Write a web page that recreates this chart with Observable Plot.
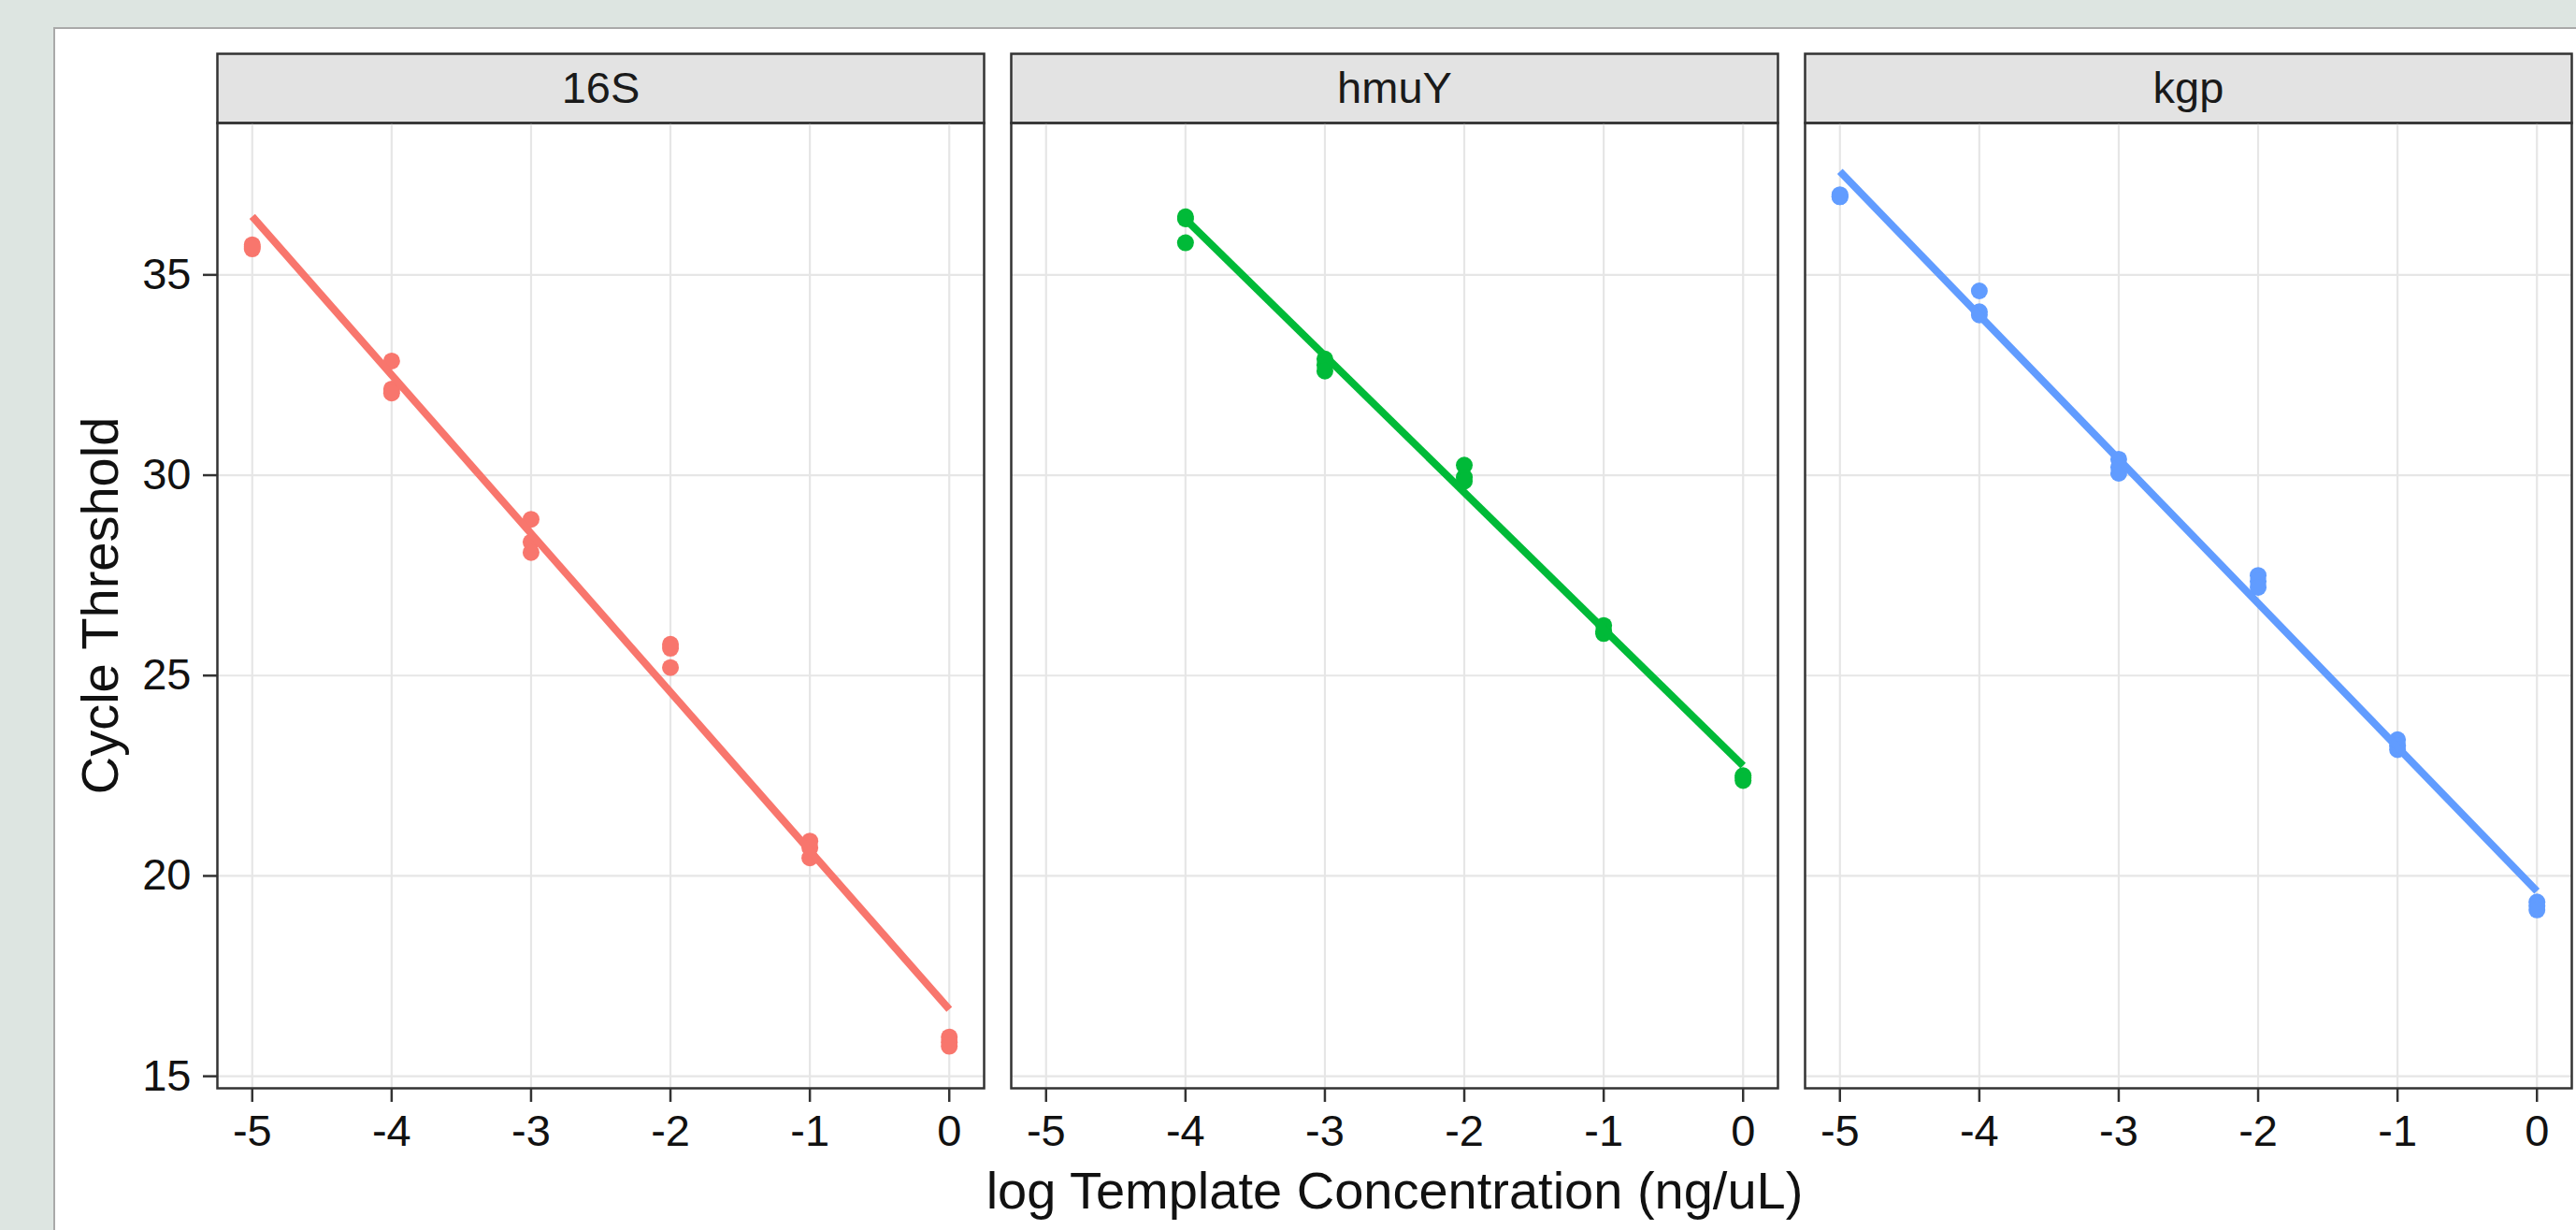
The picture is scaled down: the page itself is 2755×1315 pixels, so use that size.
<!DOCTYPE html>
<html>
<head>
<meta charset="utf-8">
<script src="https://cdn.jsdelivr.net/npm/d3@7"></script>
<script src="https://cdn.jsdelivr.net/npm/@observablehq/plot@0.6"></script>
<style>
  html, body { margin: 0; padding: 0; width: 2755px; height: 1315px; overflow: hidden; background: #dde5e1; }
  #card { position: absolute; left: 57px; top: 29px; right: 0; bottom: 0; background: #ffffff;
          border-left: 2px solid #a9a9a9; border-top: 2px solid #a9a9a9; box-sizing: border-box; }
  #chart { position: absolute; left: 57px; top: 29px; }
</style>
</head>
<body>
<div id="card"></div>
<div id="chart"></div>
<script>
// ---- data ----
const genes = ["16S", "hmuY", "kgp"];
const geneColors = ["#F8766D", "#00BA38", "#619CFF"];

const levels16S = [-5, -4, -3, -2, -1, 0];
const ct16S = [[35.75, 35.7, 35.65], [32.85, 32.15, 32.05], [28.9, 28.33, 28.07], [25.78, 25.68, 25.2], [20.87, 20.7, 20.45], [15.98, 15.85, 15.75]];

const levelsHmuY = [-4, -3, -2, -1, 0];
const ctHmuY = [[36.45, 36.4, 35.8], [32.9, 32.75, 32.6], [30.25, 29.95, 29.85], [26.25, 26.1, 26.05], [22.5, 22.45, 22.38]];

const levelsKgp = [-5, -4, -3, -2, -1, 0];
const ctKgp = [[37.0, 36.95, 36.95], [34.6, 34.08, 34.0], [30.4, 30.2, 30.05], [27.5, 27.35, 27.2], [23.4, 23.25, 23.15], [19.35, 19.25, 19.15]];

// fitted regression lines (start / end)
const fitStartX = [-5, -4, -5];
const fitEndX = [0, 0, 0];
const fitStartCt = [36.46, 36.39, 37.58];
const fitEndCt = [16.67, 22.75, 19.62];

const xTicks = [-5, -4, -3, -2, -1, 0];
const yTicks = [15, 20, 25, 30, 35];
const xTitle = "log Template Concentration (ng/uL)";
const yTitle = "Cycle Threshold";

// ---- tables built from the arrays ----
const seriesLevels = [levels16S, levelsHmuY, levelsKgp];
const seriesCt = [ct16S, ctHmuY, ctKgp];
const points = [];
genes.forEach((g, gi) => {
  seriesLevels[gi].forEach((lv, li) => {
    seriesCt[gi][li].forEach(ct => points.push({gene: g, logConc: lv, ct}));
  });
});
const fits = genes.map((g, i) => ({gene: g, x1: fitStartX[i], x2: fitEndX[i], y1: fitStartCt[i], y2: fitEndCt[i]}));

const W = 2698, H = 1286;
const mL = 175, mR = 5, mT = 102, mB = 152;
const plotH = H - mT - mB;
const stripH = 74;
const frameColor = "#333333";
const tickFont = 47;

const chart = Plot.plot({
  width: W,
  height: H,
  marginLeft: mL, marginRight: mR, marginTop: mT, marginBottom: mB,
  style: {fontFamily: "'Liberation Sans', Arial, sans-serif", fontSize: tickFont + "px", color: "#111", background: "transparent"},
  fx: {domain: genes, paddingInner: 29 / 849, paddingOuter: 0, round: false, axis: null, label: null},
  x: {domain: [-5.25, 0.25], label: null},
  y: {domain: [14.70, 38.79], label: null},
  color: {domain: genes, range: geneColors},
  marks: [
    // strip backgrounds
    Plot.frame({fill: "#e3e3e3", stroke: frameColor, strokeWidth: 2.5, insetTop: -stripH, insetBottom: plotH}),
    Plot.text(genes, {fx: d => d, text: d => d, frameAnchor: "top", dy: -stripH / 2, lineAnchor: "middle", fontSize: tickFont, fill: "#1a1a1a"}),
    // grid
    Plot.gridX(xTicks, {stroke: "#e6e6e6", strokeOpacity: 1, strokeWidth: 2.2}),
    Plot.gridY(yTicks, {stroke: "#e6e6e6", strokeOpacity: 1, strokeWidth: 2.2}),
    // data
    Plot.dot(points, {fx: "gene", x: "logConc", y: "ct", fill: "gene", r: 9}),
    Plot.link(fits, {fx: "gene", x1: "x1", y1: "y1", x2: "x2", y2: "y2", stroke: "gene", strokeWidth: 8}),
    // panel border
    Plot.frame({stroke: frameColor, strokeWidth: 2.5}),
    // axes
    Plot.axisX({ticks: xTicks, tickFormat: d => String(d), tickSize: 15, tickPadding: 13, stroke: frameColor, strokeWidth: 2.5, fontSize: tickFont, label: null}),
    Plot.axisY({ticks: yTicks, tickFormat: d => String(d), tickSize: 15, tickPadding: 13, stroke: frameColor, strokeWidth: 2.5, fontSize: tickFont, label: null}),
    // axis titles
    Plot.text([xTitle], {fx: () => genes[1], text: d => d, frameAnchor: "bottom", dy: 111, lineAnchor: "middle", fontSize: 56, fill: "#111"}),
    Plot.text([yTitle], {fx: () => genes[0], text: d => d, frameAnchor: "left", dx: -124, rotate: -90, lineAnchor: "middle", textAnchor: "middle", fontSize: 56, fill: "#111"})
  ]
});
document.getElementById("chart").appendChild(chart);
</script>
</body>
</html>
